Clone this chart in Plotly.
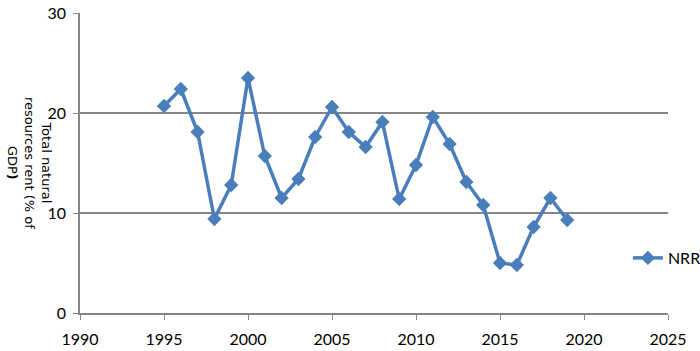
import plotly.graph_objects as go

years = list(range(1995, 2020))
nrr = [20.7, 22.4, 18.1, 9.4, 12.8, 23.5, 15.7, 11.5, 13.4, 17.6,
       20.6, 18.1, 16.6, 19.1, 11.4, 14.8, 19.6, 16.9, 13.1, 10.8,
       5.0, 4.8, 8.6, 11.5, 9.3]
x_ticks = [1990, 1995, 2000, 2005, 2010, 2015, 2020, 2025]
y_ticks = [0, 10, 20, 30]

color = "#4a7ebb"
tick_font = dict(family="Liberation Sans Narrow, Arial Narrow, Lato, sans-serif", size=16, color="#000000")

fig = go.Figure()
fig.add_trace(go.Scatter(
    x=years, y=nrr, mode="lines+markers", name="NRR",
    line=dict(color=color, width=3.5),
    marker=dict(symbol="diamond", size=11, color=color),
))

fig.update_layout(
    width=700, height=351,
    margin=dict(l=80, r=32, t=13, b=38, autoexpand=False),
    plot_bgcolor="white", paper_bgcolor="white",
    hovermode=False,
    showlegend=True,
    legend=dict(xref="container", yref="container", x=0.897, xanchor="left",
                y=0.265, yanchor="middle",
                font=tick_font, bgcolor="rgba(0,0,0,0)",
                borderwidth=0),
    xaxis=dict(range=[1990, 2025], tickvals=x_ticks, showgrid=False,
               showline=True, linecolor="#868686", linewidth=1.5,
               ticks="outside", ticklen=5, tickcolor="#868686",
               ticklabelstandoff=6,
               tickfont=tick_font, zeroline=False, automargin=False),
    yaxis=dict(range=[0, 30], tickvals=y_ticks, showgrid=True,
               gridcolor="#868686", gridwidth=1.5,
               showline=True, linecolor="#868686", linewidth=1.5,
               ticks="outside", ticklen=5, tickcolor="#868686",
               ticklabelstandoff=4,
               tickfont=tick_font, zeroline=False, automargin=False),
)

fig.add_annotation(
    text="Total natural<br>resources rent (% of<br>GDP<b>)</b>",
    textangle=90, xref="paper", yref="paper", x=0, y=0.5,
    xanchor="center", yanchor="middle", xshift=-50, showarrow=False,
    font=dict(family="DejaVu Sans, sans-serif", size=13, color="#000000"),
)

fig.write_html("out.html", config={"displayModeBar": False},
               post_script="document.body.style.margin='0';")
